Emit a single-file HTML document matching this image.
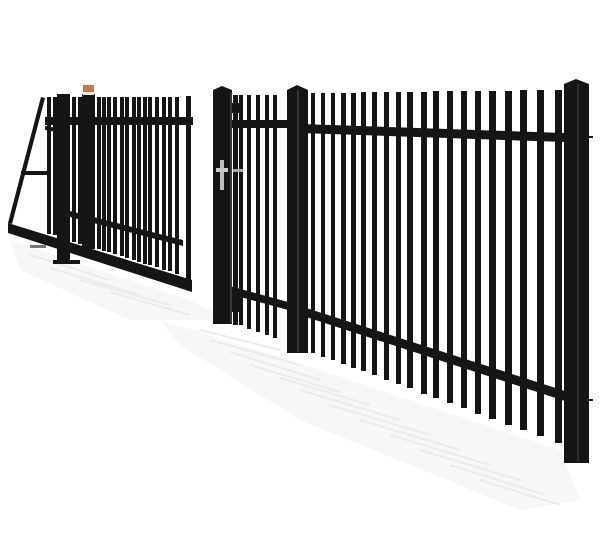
<!DOCTYPE html>
<html><head><meta charset="utf-8"><style>html,body{margin:0;padding:0;background:#fff}svg{display:block}</style></head>
<body>
<svg width="600" height="545" viewBox="0 0 600 545" xmlns="http://www.w3.org/2000/svg">
<!-- shadows -->
<g fill="#f7f7f7">
<polygon points="10,240 190,300 230,320 130,320 20,270"/>
<polygon points="160,320 290,360 560,450 580,500 520,510 300,420 180,345"/>
</g>
<g stroke="#ebebeb" stroke-width="2">
<line x1="200" y1="330" x2="280" y2="350"/><line x1="210" y1="340" x2="300" y2="365"/>
<line x1="230" y1="352" x2="320" y2="380"/><line x1="250" y1="365" x2="340" y2="392"/>
<line x1="280" y1="378" x2="370" y2="405"/><line x1="300" y1="390" x2="400" y2="420"/>
<line x1="330" y1="405" x2="430" y2="435"/><line x1="360" y1="420" x2="460" y2="450"/>
<line x1="390" y1="435" x2="490" y2="465"/><line x1="420" y1="450" x2="520" y2="480"/>
<line x1="450" y1="465" x2="545" y2="495"/><line x1="480" y1="480" x2="560" y2="505"/>
<line x1="30" y1="255" x2="110" y2="280"/><line x1="50" y1="268" x2="140" y2="295"/>
<line x1="80" y1="280" x2="170" y2="305"/><line x1="110" y1="292" x2="190" y2="315"/>
</g>

<g fill="#151515">
<!-- ============ sliding gate ============ -->
<polygon points="41,97 45,98 12,224 8,223"/>
<rect x="21" y="171" width="26" height="4"/>
<rect x="45" y="117" width="148" height="8"/>
<polygon points="8,223 192,280 192,292 8,233"/>
<polygon points="70,211 183,240 183,246 70,217"/>
<polygon points="45,126 57,128 57,132 45,130"/>
<rect x="47" y="97" width="4" height="137"/>
<rect x="53" y="97" width="4" height="138"/>
<rect x="72" y="97" width="4" height="145"/>
<rect x="78" y="97" width="4" height="147"/>
<rect x="97" y="97" width="4" height="152"/>
<rect x="102" y="97" width="4" height="154"/>
<rect x="107" y="97" width="4" height="155"/>
<rect x="113" y="97" width="4" height="157"/>
<rect x="120" y="97" width="4" height="159"/>
<rect x="125" y="97" width="4" height="161"/>
<rect x="132" y="97" width="4" height="163"/>
<rect x="137" y="97" width="4" height="165"/>
<rect x="143" y="97" width="4" height="167"/>
<rect x="148" y="97" width="4" height="168"/>
<rect x="155" y="97" width="4" height="170"/>
<rect x="162" y="97" width="4" height="173"/>
<rect x="168" y="97" width="4" height="174"/>
<rect x="175" y="97" width="4" height="177"/>
<rect x="186" y="96" width="5" height="186"/>
<rect x="57" y="94" width="13" height="168"/>
<rect x="53" y="260" width="27" height="4"/>
<rect x="82" y="94" width="13" height="155"/>
<rect x="30" y="245" width="16" height="3" fill="#777"/>
</g>
<rect x="83" y="85" width="11" height="7" fill="#c47a4c"/>
<rect x="83" y="92" width="11" height="3" fill="#e8e8e8"/>

<g fill="#151515">
<!-- ============ wicket gate ============ -->
<rect x="213" y="90" width="19" height="234"/>
<polygon points="213,90 222,86 232,90"/>
<rect x="232" y="103" width="11" height="10"/>
<rect x="226" y="120" width="62" height="8"/>
<polygon points="226,285 288,302 288,310 226,293"/>
<rect x="233" y="95" width="5" height="230"/>
<rect x="239" y="95" width="4" height="230"/>
<rect x="247" y="95" width="4" height="234"/>
<rect x="256" y="95" width="4" height="237"/>
<rect x="265" y="95" width="4" height="240"/>
<rect x="273" y="95" width="4" height="243"/>
<rect x="230" y="290" width="9" height="22"/>

<!-- ============ right fence ============ -->
<polygon points="300,124 565,133 565,142 300,133"/>
<polygon points="300,306 565,391 565,401 300,315"/>
<rect x="311" y="93" width="4" height="260"/>
<rect x="321" y="93" width="4" height="264"/>
<rect x="331" y="93" width="4" height="267"/>
<rect x="341" y="93" width="5" height="271"/>
<rect x="351" y="93" width="5" height="275"/>
<rect x="361" y="92" width="5" height="279"/>
<rect x="372" y="92" width="5" height="283"/>
<rect x="384" y="92" width="5" height="288"/>
<rect x="396" y="92" width="5" height="292"/>
<rect x="407" y="92" width="6" height="296"/>
<rect x="421" y="92" width="6" height="302"/>
<rect x="433" y="91" width="6" height="307"/>
<rect x="447" y="91" width="6" height="312"/>
<rect x="461" y="91" width="6" height="317"/>
<rect x="475" y="91" width="6" height="323"/>
<rect x="489" y="91" width="7" height="328"/>
<rect x="505" y="91" width="7" height="334"/>
<rect x="520" y="90" width="7" height="340"/>
<rect x="537" y="90" width="7" height="346"/>
<rect x="555" y="90" width="7" height="353"/>
<rect x="287" y="90" width="21" height="263"/>
<polygon points="287,90 297,85 308,90"/>
<rect x="564" y="84" width="25" height="379"/>
<polygon points="564,84 576,79 589,84"/>
<rect x="589" y="136" width="4" height="2"/>
<rect x="589" y="399" width="4" height="2"/>
</g>
<rect x="230" y="93" width="2" height="230" fill="#3a3a3a"/>
<rect x="297" y="90" width="2" height="262" fill="#333"/>
<rect x="577" y="84" width="2" height="378" fill="#2e2e2e"/>
<!-- handle -->
<rect x="220" y="160" width="4" height="30" fill="#bdbdbd"/>
<rect x="216" y="168" width="12" height="4" fill="#c9c9c9"/>
<rect x="233" y="169" width="10" height="3" fill="#aaa"/>
</svg>
</body></html>
